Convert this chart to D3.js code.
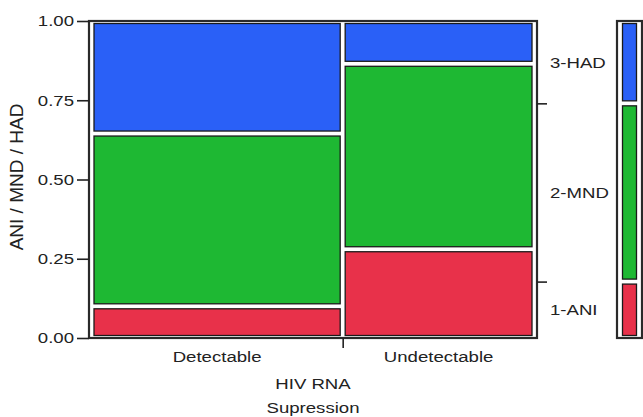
<!DOCTYPE html>
<html>
<head>
<meta charset="utf-8">
<script src="https://cdn.jsdelivr.net/npm/d3@7"></script>
<style>
    body { margin: 0; background: #fff; }
    svg text { font-family: 'Liberation Sans', Arial, sans-serif; fill: #222; }
    .axis path, .axis line { stroke: #222; stroke-width: 1.6; }
</style>
</head>
<body>
<div id="chart"></div>
<script>
// HIV RNA suppression vs ANI / MND / HAD (mosaic)
const categories = ['Detectable', 'Undetectable'];
const colShare = [0.567, 0.433];
const levels = ['1-ANI', '2-MND', '3-HAD'];
const detectable = [0.10, 0.545, 0.355];
const undetectable = [0.28, 0.585, 0.135];
const yTicks = [0, 0.25, 0.5, 0.75, 1];
const colors = ['#e8314a', '#1eb833', '#2a60f7'];

const width = 643;
const height = 417;
const stretch = 1.2;   // the text in the picture is a bit wide
const inset = 2.5;

const frame = {left: 89, right: 537, top: 21, bottom: 338};
const legendBox = {left: 617, right: 642};

const columns = [detectable, undetectable];

const svg = d3.select('#chart')
  .append('svg')
    .attr('width', width)
    .attr('height', height);

const yScale = d3.scaleLinear()
    .domain([0, 1])
    .range([frame.bottom, frame.top]);

const xScale = d3.scaleLinear()
    .domain([0, 1])
    .range([frame.left + 2.5, frame.right - 2.5]);

const colColor = d3.scaleOrdinal().domain(levels).range(colors);

// column start / end in share units
let acc = 0;
const colBounds = colShare.map(s => {
    const b = [acc, acc + s];
    acc += s;
    return b;
});

function stack(values) {
    let c = 0;
    return values.map((v, i) => {
        const seg = {level: levels[i], y0: c, y1: c + v};
        c += v;
        return seg;
    });
}

// overall marginal, weighted by column share
const overall = levels.map((l, i) => d3.sum(columns, (col, j) => col[i] * colShare[j]));

function drawTiles(g, segs, x0, x1) {
    g.selectAll('rect.tile')
        .data(segs)
      .enter()
      .append('rect')
        .classed('tile', true)
        .attr('x', x0 + inset)
        .attr('width', x1 - x0 - 2 * inset)
        .attr('y', d => yScale(d.y1) + inset)
        .attr('height', d => yScale(d.y0) - yScale(d.y1) - 2 * inset)
        .attr('fill', d => colColor(d.level))
        .attr('stroke', '#1a1a1a')
        .attr('stroke-width', 1.3);
}

// main frame
svg.append('rect')
    .attr('x', frame.left)
    .attr('y', frame.top)
    .attr('width', frame.right - frame.left)
    .attr('height', frame.bottom - frame.top)
    .attr('fill', '#fff')
    .attr('stroke', '#2a2a2a')
    .attr('stroke-width', 2.2);

const mosaic = svg.append('g').classed('mosaic', true);
columns.forEach((col, j) => {
    drawTiles(mosaic.append('g'), stack(col), xScale(colBounds[j][0]), xScale(colBounds[j][1]));
});

// legend bar (overall distribution)
svg.append('rect')
    .attr('x', legendBox.left)
    .attr('y', frame.top)
    .attr('width', legendBox.right - legendBox.left)
    .attr('height', frame.bottom - frame.top)
    .attr('fill', '#fff')
    .attr('stroke', '#2a2a2a')
    .attr('stroke-width', 2.2);

drawTiles(svg.append('g'), stack(overall), legendBox.left + 3, legendBox.right - 3);

// left axis
const yAxis = d3.axisLeft(yScale)
    .tickValues(yTicks)
    .tickFormat(d3.format('.2f'))
    .tickSize(12)
    .tickPadding(3)
    .tickSizeOuter(0);

const yg = svg.append('g')
    .classed('axis', true)
    .attr('transform', `translate(${frame.left},0)`)
    .call(yAxis);
yg.select('.domain').remove();
yg.selectAll('text')
    .style('font-size', '15.5px')
    .attr('x', -15 / stretch)
    .attr('transform', `scale(${stretch},1)`);

// bottom axis: divider tick and column labels
const xg = svg.append('g')
    .classed('axis', true)
    .attr('transform', `translate(0,${frame.bottom})`)
    .call(d3.axisBottom(xScale)
        .tickValues([colBounds[0][1]])
        .tickFormat('')
        .tickSize(10)
        .tickSizeOuter(0));
xg.select('.domain').remove();

svg.append('g')
    .selectAll('text')
    .data(categories)
  .enter()
  .append('text')
    .attr('transform', (d, i) => {
        const cx = xScale((colBounds[i][0] + colBounds[i][1]) / 2);
        return `translate(${cx},362) scale(${stretch},1)`;
    })
    .attr('text-anchor', 'middle')
    .style('font-size', '15.5px')
    .text(d => d);

// right axis: marginal boundaries and level names
let c = 0;
const cuts = overall.slice(0, -1).map(v => (c += v));
const rg = svg.append('g')
    .classed('axis', true)
    .attr('transform', `translate(${frame.right},0)`)
    .call(d3.axisRight(yScale)
        .tickValues(cuts)
        .tickFormat('')
        .tickSize(10)
        .tickSizeOuter(0));
rg.select('.domain').remove();

svg.append('g')
    .selectAll('text')
    .data(stack(overall))
  .enter()
  .append('text')
    .attr('transform', d => `translate(550,${yScale((d.y0 + d.y1) / 2)}) scale(${stretch},1)`)
    .attr('dy', '0.35em')
    .style('font-size', '15.5px')
    .text(d => d.level);

// axis titles
const titleX = (frame.left + frame.right) / 2;
svg.append('text')
    .attr('transform', `translate(${titleX},389) scale(${stretch},1)`)
    .attr('text-anchor', 'middle')
    .style('font-size', '15.5px')
    .text('HIV RNA');
svg.append('text')
    .attr('transform', `translate(${titleX},413) scale(${stretch},1)`)
    .attr('text-anchor', 'middle')
    .style('font-size', '15.5px')
    .text('Supression');

svg.append('text')
    .attr('transform', 'translate(22.5,177) rotate(-90)')
    .attr('text-anchor', 'middle')
    .style('font-size', '19px')
    .text('ANI / MND / HAD');
</script>
</body>
</html>
